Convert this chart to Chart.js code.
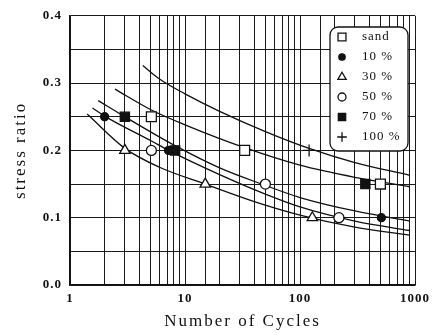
<!DOCTYPE html>
<html>
<head>
<meta charset="utf-8">
<script src="https://cdn.jsdelivr.net/npm/chart.js@4/dist/chart.umd.min.js"></script>
<style>
  html, body { margin: 0; padding: 0; background: #fff; }
  #wrap { width: 436px; height: 335px; }
</style>
</head>
<body>
<div id="wrap"><canvas id="myChart" width="436" height="335"></canvas></div>
<script>
const ctx = document.getElementById('myChart').getContext('2d');

// measured points (N cycles, stress ratio)
const sandN = [5.1, 33, 500];
const sandS = [0.25, 0.2, 0.15];
const p10N = [2, 7.2, 510];
const p10S = [0.25, 0.2, 0.1];
const p30N = [3, 15, 128];
const p30S = [0.2, 0.15, 0.1];
const p50N = [5.1, 50, 218];
const p50S = [0.2, 0.15, 0.1];
const p70N = [3, 8.2, 370];
const p70S = [0.25, 0.2, 0.15];
const p100N = [120];
const p100S = [0.2];

// hand drawn fit curves
const c1N = [4.3, 6, 10, 20, 50, 120, 300, 900];
const c1S = [0.326, 0.306, 0.284, 0.258, 0.228, 0.203, 0.182, 0.163];
const c2N = [2.46, 5.1, 10, 33, 100, 300, 900];
const c2S = [0.291, 0.26, 0.238, 0.204, 0.178, 0.16, 0.146];
const c3N = [1.76, 3, 8.2, 20, 50, 100, 300, 900];
const c3S = [0.274, 0.25, 0.207, 0.174, 0.148, 0.13, 0.11, 0.095];
const c4N = [1.57, 2, 5.1, 7.2, 20, 50, 100, 300, 900];
const c4S = [0.263, 0.251, 0.214, 0.2, 0.164, 0.135, 0.116, 0.095, 0.081];
const c5N = [1.41, 3, 6, 15, 40, 100, 300, 900];
const c5S = [0.254, 0.203, 0.175, 0.15, 0.124, 0.104, 0.086, 0.074];

const legendLabels = ['sand', '10 %', '30 %', '50 %', '70 %', '100 %'];

const pts = (xs, ys) => xs.map((x, i) => ({x: x, y: ys[i]}));

const curve = (xs, ys) => ({
  data: pts(xs, ys),
  showLine: true,
  borderColor: '#111',
  borderWidth: 1.3,
  pointRadius: 0,
  cubicInterpolationMode: 'monotone',
  order: 2
});

const marks = [
  {label: legendLabels[0], data: pts(sandN, sandS), pointStyle: 'rect', pointRadius: 7, backgroundColor: '#fff'},
  {label: legendLabels[1], data: pts(p10N, p10S), pointStyle: 'circle', pointRadius: 4, backgroundColor: '#111'},
  {label: legendLabels[2], data: pts(p30N, p30S), pointStyle: 'triangle', pointRadius: 6, backgroundColor: '#fff'},
  {label: legendLabels[3], data: pts(p50N, p50S), pointStyle: 'circle', pointRadius: 5, backgroundColor: '#fff'},
  {label: legendLabels[4], data: pts(p70N, p70S), pointStyle: 'rect', pointRadius: 6.5, backgroundColor: '#111'},
  {label: legendLabels[5], data: pts(p100N, p100S), pointStyle: 'cross', pointRadius: 6, backgroundColor: '#111'}
].map(d => Object.assign(d, {borderColor: '#111', borderWidth: 1.3, showLine: false, order: 1}));

// wider letter spacing for the axis titles, like the scanned figure
const baseDrawTitle = Chart.Scale.prototype.drawTitle;
Chart.Scale.prototype.drawTitle = function () {
  this.ctx.save();
  this.ctx.letterSpacing = '2px';
  baseDrawTitle.call(this);
  this.ctx.restore();
};

// legend box drawn inside the plot, like the original
const boxLegend = {
  id: 'boxLegend',
  afterDraw(chart) {
    const c = chart.ctx;
    c.save();
    c.fillStyle = '#fff';
    c.strokeStyle = '#111';
    c.lineWidth = 1.3;
    c.beginPath();
    c.roundRect(330, 27, 78, 124, 8);
    c.fill();
    c.stroke();
    c.font = '13px "Liberation Serif"';
    c.letterSpacing = '1px';
    c.textBaseline = 'middle';
    marks.forEach((d, i) => {
      const y = 37 + i * 20;
      c.fillStyle = d.backgroundColor;
      c.strokeStyle = '#111';
      c.lineWidth = 1.3;
      Chart.helpers.drawPoint(c, {pointStyle: d.pointStyle, radius: d.pointRadius * 0.8, borderWidth: 1.3}, 342, y);
      c.fillStyle = '#111';
      c.fillText(d.label, 362, y);
    });
    c.restore();
  }
};

const spacing = {
  id: 'spacing',
  beforeDraw(chart) { chart.ctx.letterSpacing = '1px'; }
};

new Chart(ctx, {
  type: 'scatter',
  data: {
    datasets: marks.concat([
      curve(c1N, c1S), curve(c2N, c2S), curve(c3N, c3S),
      curve(c4N, c4S), curve(c5N, c5S)
    ])
  },
  options: {
    responsive: false,
    animation: false,
    layout: { padding: {left: 0, right: 21, top: 15, bottom: 0} },
    plugins: { legend: { display: false }, tooltip: { enabled: false } },
    scales: {
      x: {
        type: 'logarithmic',
        min: 1,
        max: 1000,
        afterFit: s => { s.height = 50; },
        grid: { color: '#1a1a1a', lineWidth: 1, drawTicks: false },
        border: { color: '#111', width: 1.5 },
        ticks: {
          autoSkip: false,
          maxRotation: 0,
          padding: 6,
          color: '#111',
          font: { family: 'Liberation Serif', size: 13, weight: 'bold' },
          callback: v => ([1, 10, 100, 1000].includes(v) ? String(v) : '')
        },
        title: {
          display: true,
          text: 'Number of Cycles',
          color: '#111',
          padding: {top: 4, bottom: 3},
          font: { family: 'Liberation Serif', size: 17 }
        }
      },
      y: {
        min: 0,
        max: 0.4,
        afterFit: s => { s.width = 70; },
        grid: { color: '#1a1a1a', lineWidth: 1, drawTicks: false },
        border: { color: '#111', width: 1.5 },
        ticks: {
          stepSize: 0.05,
          autoSkip: false,
          padding: 8,
          color: '#111',
          font: { family: 'Liberation Serif', size: 13, weight: 'bold' },
          callback: v => (Math.abs(v * 10 - Math.round(v * 10)) < 1e-6 ? v.toFixed(1) : '')
        },
        title: {
          display: true,
          text: 'stress ratio',
          color: '#111',
          padding: {top: 10, bottom: 4},
          font: { family: 'Liberation Serif', size: 17 }
        }
      }
    }
  },
  plugins: [spacing, boxLegend]
});
</script>
</body>
</html>
